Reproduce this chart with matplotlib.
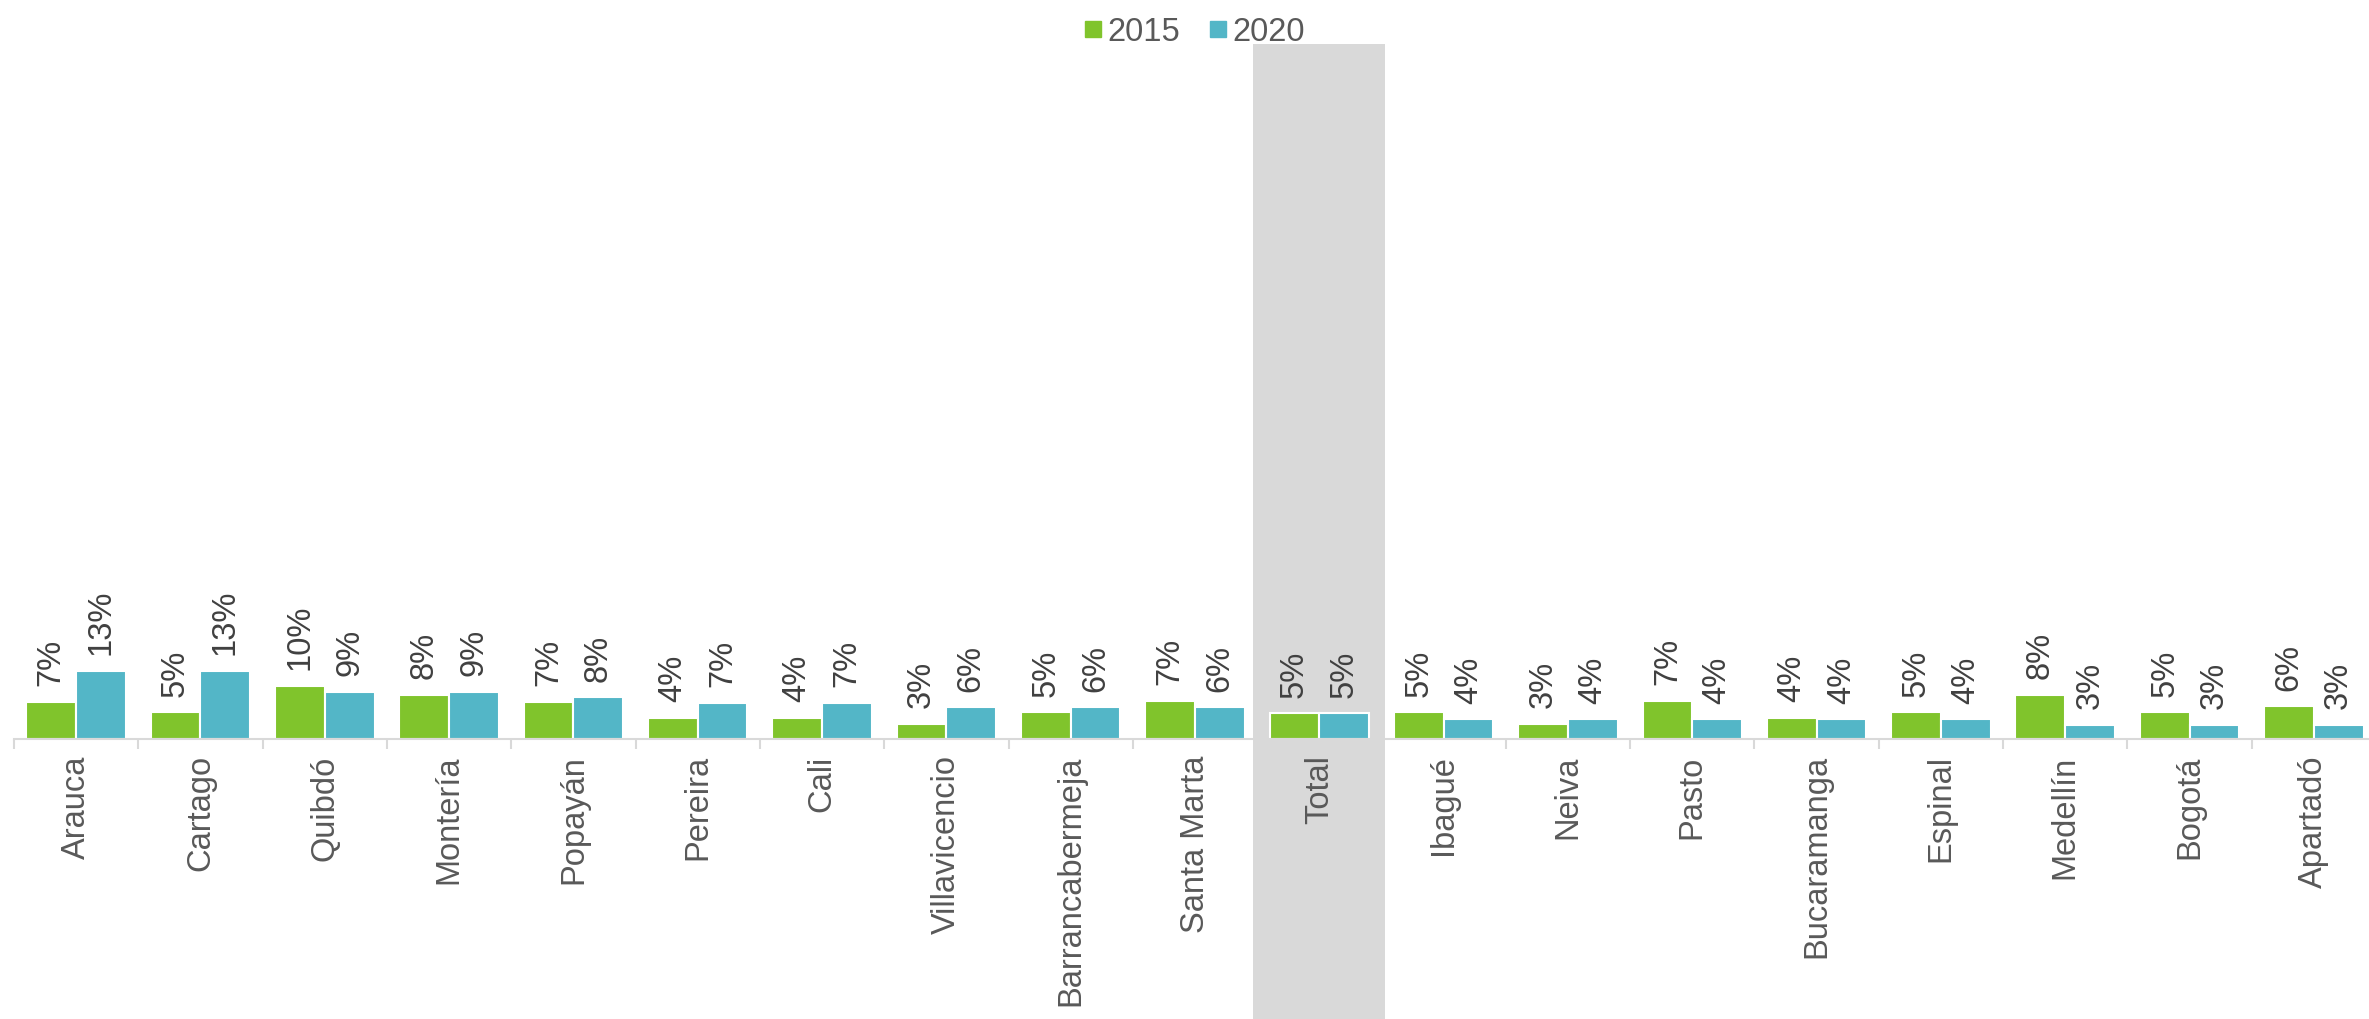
import matplotlib.pyplot as plt
from matplotlib.lines import Line2D
import numpy as np

# Datos
ciudades = ["Arauca", "Cartago", "Quibdó", "Montería", "Popayán", "Pereira", "Cali",
            "Villavicencio", "Barrancabermeja", "Santa Marta", "Total", "Ibagué", "Neiva",
            "Pasto", "Bucaramanga", "Espinal", "Medellín", "Bogotá", "Apartadó"]
valores_2015 = [0.070, 0.050, 0.100, 0.082, 0.070, 0.039, 0.039, 0.028, 0.050, 0.071,
                0.048, 0.050, 0.028, 0.071, 0.039, 0.050, 0.082, 0.050, 0.061]
valores_2020 = [0.128, 0.128, 0.088, 0.088, 0.078, 0.068, 0.068, 0.059, 0.059, 0.059,
                0.048, 0.037, 0.037, 0.037, 0.037, 0.037, 0.027, 0.027, 0.027]
series = ["2015", "2020"]

verde = "#80C42C"
azul = "#53B6C7"
gris = "#D9D9D9"
texto = "#595959"

plt.rcParams['font.family'] = ['Liberation Sans', 'DejaVu Sans']

fig = plt.figure(figsize=(23.69, 10.2), dpi=100)
ax = fig.add_axes([14 / 2369, 280 / 1020, 2362 / 2369, 695 / 1020])

x = np.arange(len(ciudades))
ancho = 0.4

# Franja gris para el total (baja hasta el borde de la figura)
i_total = ciudades.index("Total")
ax.axvspan(i_total - 0.53, i_total + 0.53, ymin=-0.41, ymax=1, color=gris,
           clip_on=False, zorder=0, lw=0)

b1 = ax.bar(x - ancho / 2, valores_2015, ancho, color=verde, edgecolor="white", lw=1.5, zorder=2)
b2 = ax.bar(x + ancho / 2, valores_2020, ancho, color=azul, edgecolor="white", lw=1.5, zorder=2)

# Etiquetas de valores
for barras in (b1, b2):
    for rect in barras:
        v = rect.get_height()
        ax.annotate(f"{v:.0%}", (rect.get_x() + rect.get_width() / 2, v),
                    xytext=(0, 12), textcoords="offset points", rotation=90,
                    ha="center", va="bottom", fontsize=23.5, color="#404040")

ax.set_xlim(-0.5, len(ciudades) - 0.5)
ax.set_ylim(0, 1.30)

ax.set_xticks(x)
ax.set_xticklabels(ciudades, rotation=90, fontsize=23.5, color=texto)
ax.set_xticks(np.arange(len(ciudades) + 1) - 0.5, minor=True)
ax.tick_params(axis="x", which="major", length=0, pad=11)
ax.tick_params(axis="x", which="minor", length=7, width=1.5, color=gris)
ax.set_yticks([])

for lado in ("left", "right", "top"):
    ax.spines[lado].set_visible(False)
ax.spines["bottom"].set_color(gris)
ax.spines["bottom"].set_linewidth(1.5)

# Leyenda arriba al centro
marcas = [Line2D([], [], marker="s", ls="", color=c, markersize=12) for c in (verde, azul)]
ley = ax.legend(marcas, series, loc="lower center", bbox_to_anchor=(0.5, 0.995), ncol=2,
                frameon=False, fontsize=23.5, handlelength=0.5, handletextpad=0.2,
                columnspacing=0.9, borderpad=0, borderaxespad=0)
for t in ley.get_texts():
    t.set_color(texto)

plt.savefig("out.png", dpi=100)
